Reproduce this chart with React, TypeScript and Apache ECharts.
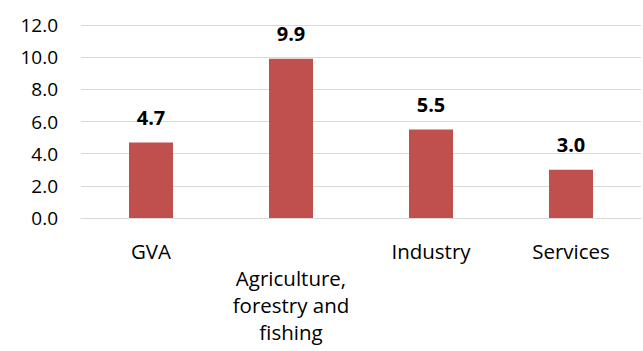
import React, { useEffect, useRef } from "react";
import * as echarts from "echarts";

const categories = ["GVA", "\nAgriculture,\nforestry and\nfishing", "Industry", "Services"];
const values = [4.7, 9.9, 5.5, 3.0];
const yTicks = { min: 0, max: 12, interval: 2 };

export default function App() {
  const ref = useRef<HTMLDivElement>(null);
  useEffect(() => {
    if (!ref.current) return;
    const chart = echarts.init(ref.current, undefined, { renderer: "svg" });
    const font = "'Open Sans', Lato, sans-serif";
    chart.setOption({
      animation: false,
      backgroundColor: "#ffffff",
      grid: { left: 81, right: 2, top: 25, bottom: 133, containLabel: false },
      xAxis: {
        type: "category",
        data: categories,
        axisLine: { show: true, lineStyle: { color: "#D9D9D9", width: 1 } },
        axisTick: { show: false },
        axisLabel: {
          color: "#000000",
          fontFamily: font,
          fontSize: 20.5,
          lineHeight: 27,
          margin: 19,
          interval: 0,
        },
      },
      yAxis: {
        type: "value",
        min: yTicks.min,
        max: yTicks.max,
        interval: yTicks.interval,
        axisLine: { show: false },
        axisTick: { show: false },
        splitLine: { lineStyle: { color: "#D9D9D9", width: 1 } },
        axisLabel: {
          color: "#000000",
          fontFamily: font,
          fontSize: 19,
          margin: 23,
          formatter: (v: number) => v.toFixed(1),
        },
      },
      series: [
        {
          type: "bar",
          data: values,
          barWidth: 44,
          itemStyle: { color: "#C0504D" },
          label: {
            show: true,
            position: "top",
            distance: 15,
            color: "#000000",
            fontFamily: font,
            fontSize: 20,
            fontWeight: "bold",
            formatter: (p: any) => Number(p.value).toFixed(1),
          },
        },
      ],
    });
    return () => chart.dispose();
  }, []);
  return (
    <div
      ref={ref}
      style={{ position: "fixed", left: 0, top: 0, width: 643, height: 351 }}
    />
  );
}
